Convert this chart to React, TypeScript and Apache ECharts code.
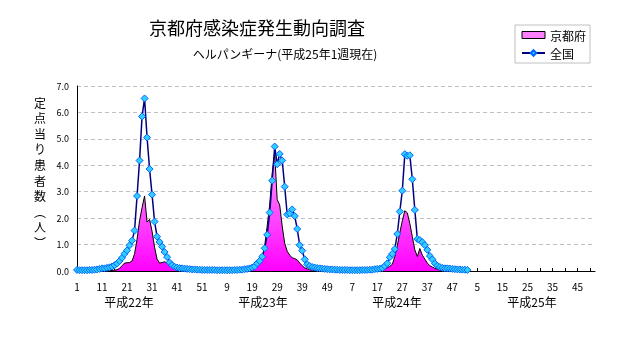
import React, { useEffect, useRef } from "react";
import * as echarts from "echarts";

// ---- data ----
const yearLabels = ["平成22年", "平成23年", "平成24年", "平成25年"];
const weeksPerYear = [52, 52, 52, 52];

const kyoto22 = [
  0, 0, 0, 0, 0, 0, 0, 0, 0, 0, 0, 0, 0.01, 0.01,
  0.02, 0.03, 0.05, 0.1, 0.2, 0.3, 0.31, 0.32, 0.38, 0.65, 1.2, 1.9, 2.4, 2.84, 1.85, 1.95,
  1.5, 0.9, 0.45, 0.3, 0.32, 0.35, 0.3, 0.2, 0.12, 0.08, 0.05, 0.03, 0.02, 0.02, 0.01,
  0.01, 0.01, 0, 0, 0, 0, 0,
];
const kyoto23 = [
  0, 0, 0, 0, 0, 0, 0, 0, 0, 0, 0, 0, 0.01, 0.01, 0.02, 0.02,
  0.03, 0.05, 0.08, 0.12, 0.2, 0.35, 0.5, 0.95, 1.7, 2.5, 3.7, 4.45, 2.7, 2.5,
  1.7, 1.05, 0.75, 0.6, 0.5, 0.47, 0.42, 0.3, 0.2, 0.12, 0.08, 0.05, 0.03, 0.02,
  0.02, 0.01, 0.01, 0.01, 0, 0, 0, 0,
];
const kyoto24 = [
  0, 0, 0, 0, 0, 0, 0, 0, 0, 0, 0, 0, 0.01, 0.01, 0.02, 0.02,
  0.03, 0.05, 0.07, 0.1, 0.12, 0.18, 0.25, 0.55, 0.95, 1.45, 1.9, 2.28, 2.2, 1.8,
  1.3, 0.8, 0.55, 0.85, 0.6, 0.45, 0.3, 0.2, 0.15, 0.1, 0.06, 0.04,
  0.03, 0.02, 0.02, 0.01, 0.01, 0.01, 0, 0, 0, 0,
];
const kyoto25 = [0];

const zenkoku22 = [
  0.04, 0.03, 0.03, 0.03, 0.03, 0.04, 0.04, 0.05, 0.06,
  0.08, 0.1, 0.1, 0.12, 0.14, 0.17, 0.22, 0.28, 0.38, 0.5, 0.65, 0.78, 0.97, 1.15, 1.53,
  2.84, 4.18, 5.85, 6.53, 5.05, 3.86, 2.89, 1.87, 1.3, 1.1, 0.92, 0.72, 0.53, 0.32, 0.22,
  0.16, 0.13, 0.11, 0.1, 0.09, 0.08, 0.07, 0.06, 0.06, 0.05, 0.05, 0.04, 0.04,
];
const zenkoku23 = [
  0.04, 0.04, 0.04, 0.04, 0.03, 0.03, 0.03, 0.03, 0.03, 0.03, 0.03, 0.04, 0.04, 0.05, 0.05,
  0.07, 0.08, 0.1, 0.13, 0.17, 0.29, 0.38, 0.54, 0.86, 1.37, 2.21, 3.42, 4.71, 4.04, 4.43,
  4.18, 3.19, 2.14, 2.18, 2.33, 2.08, 1.59, 0.98, 0.77, 0.44, 0.25, 0.19, 0.15, 0.13, 0.11,
  0.1, 0.09, 0.08, 0.07, 0.06, 0.06, 0.05,
];
const zenkoku24 = [
  0.05, 0.04, 0.04, 0.04, 0.04, 0.03, 0.03, 0.03, 0.03, 0.03, 0.04, 0.04, 0.04, 0.05, 0.05,
  0.07, 0.08, 0.09, 0.11, 0.19, 0.29, 0.52, 0.65, 0.83, 1.4, 2.25, 3.04, 4.42, 4.36, 4.38,
  3.47, 2.31, 1.21, 1.17, 1.09, 0.98, 0.8, 0.57, 0.44, 0.29, 0.2, 0.15, 0.12, 0.1, 0.1,
  0.09, 0.08, 0.07, 0.06, 0.06, 0.05, 0.05,
];
const zenkoku25 = [0.04];

const yTicks = [0, 1, 2, 3, 4, 5, 6, 7];
const yAxisNameChars = ["定", "点", "当", "り", "患", "者", "数", "︵", "人", "︶"];

// ---- derived ----
const categories: string[] = [];
weeksPerYear.forEach((n, yi) => {
  for (let w = 1; w <= n; w++) categories.push(`${yearLabels[yi]}${w}週`);
});
const weekOf = (label: string) => label.replace(/^平成\d+年/, "").replace("週", "");
const kyoto = [...kyoto22, ...kyoto23, ...kyoto24, ...kyoto25];
const zenkoku = [...zenkoku22, ...zenkoku23, ...zenkoku24, ...zenkoku25];

const FONT = "'Noto Sans CJK JP', 'Noto Sans', sans-serif";
const yearLabelX = [129, 263, 397, 532];

export default function App() {
  const ref = useRef<HTMLDivElement>(null);
  useEffect(() => {
    if (!ref.current) return;
    const chart = echarts.init(ref.current, undefined, { renderer: "svg" });
    chart.setOption({
      animation: false,
      textStyle: { fontFamily: FONT },
      grid: { left: 77, top: 86, width: 518, height: 185 },
      legend: {
        orient: "vertical",
        left: 515,
        top: 25,
        padding: [4, 4, 4, 6],
        borderColor: "#C0C0C0",
        borderWidth: 1,
        itemGap: 6,
        itemWidth: 23,
        itemHeight: 7,
        textStyle: { fontSize: 12, color: "#000", fontFamily: FONT },
        data: [
          {
            name: "京都府",
            icon: "rect",
            itemStyle: { color: "#FF80FF", borderColor: "#000", borderWidth: 1 },
          },
          { name: "全国" },
        ],
      },
      xAxis: {
        type: "category",
        data: categories,
        boundaryGap: false,
        axisLine: { lineStyle: { color: "#000", width: 1 } },
        axisTick: { inside: true, length: 3, interval: 4, lineStyle: { color: "#000" } },
        axisLabel: {
          interval: 9,
          fontSize: 10,
          margin: 10,
          color: "#000",
          fontFamily: FONT,
          formatter: (v: string) => weekOf(v),
        },
        splitLine: { show: false },
      },
      yAxis: {
        type: "value",
        min: yTicks[0],
        max: yTicks[yTicks.length - 1],
        interval: 1,
        axisLine: { show: true, lineStyle: { color: "#000", width: 1 } },
        axisTick: { show: false },
        axisLabel: {
          fontSize: 9,
          margin: 8,
          color: "#000",
          fontFamily: FONT,
          formatter: (v: number) => v.toFixed(1),
        },
        splitLine: { show: true, lineStyle: { color: "#C0C0C0", type: [4, 3], width: 1 } },
      },
      series: [
        {
          name: "京都府",
          type: "line",
          data: kyoto,
          symbol: "none",
          lineStyle: { color: "#000", width: 1 },
          itemStyle: { color: "#FF80FF" },
          areaStyle: {
            opacity: 1,
            color: new echarts.graphic.LinearGradient(0, 0, 0, 1, [
              { offset: 0, color: "#FFA0FF" },
              { offset: 1, color: "#FF00FF" },
            ]),
          },
          z: 2,
        },
        {
          name: "全国",
          type: "line",
          data: zenkoku,
          symbol: "diamond",
          symbolSize: 7,
          showSymbol: true,
          showAllSymbol: true,
          lineStyle: { color: "#000080", width: 1.5 },
          itemStyle: { color: "#33CCFF", borderColor: "#0066FF", borderWidth: 1 },
          z: 3,
        },
      ],
      graphic: [
        {
          type: "text",
          x: 257,
          y: 27,
          style: {
            text: "京都府感染症発生動向調査",
            fontSize: 18,
            fontFamily: FONT,
            fill: "#000",
            textAlign: "center",
            textVerticalAlign: "middle",
          },
        },
        {
          type: "text",
          x: 285,
          y: 53,
          style: {
            text: "ヘルパンギーナ(平成25年1週現在)",
            fontSize: 12,
            fontFamily: FONT,
            fill: "#000",
            textAlign: "center",
            textVerticalAlign: "middle",
          },
        },
        ...yAxisNameChars.map((c, i) => ({
          type: "text",
          x: 40,
          y: 102 + i * 15.6,
          style: {
            text: c,
            fontSize: 12,
            lineHeight: 13,
            fontFamily: FONT,
            fill: "#000",
            textAlign: "center",
            textVerticalAlign: "middle",
          },
        })),
        ...yearLabels.map((t, i) => ({
          type: "text",
          x: yearLabelX[i],
          y: 301,
          style: {
            text: t,
            fontSize: 12,
            fontFamily: FONT,
            fill: "#000",
            textAlign: "center",
            textVerticalAlign: "middle",
          },
        })),
      ],
    });
    return () => chart.dispose();
  }, []);
  return (
    <div
      ref={ref}
      style={{ position: "fixed", left: 0, top: 0, width: 632, height: 348 }}
    />
  );
}
